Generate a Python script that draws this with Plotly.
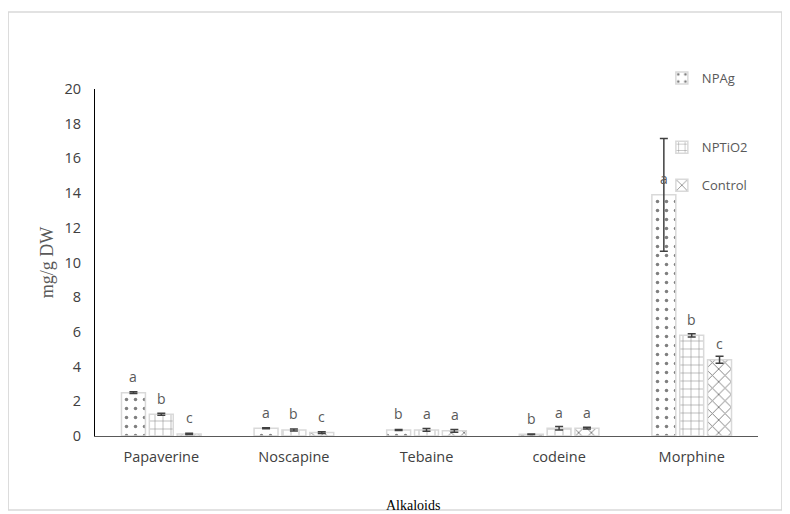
import plotly.graph_objects as go

alkaloids = ["Papaverine", "Noscapine", "Tebaine", "codeine", "Morphine"]

npag = [2.5, 0.45, 0.35, 0.1, 13.9]
npag_err = [0.05, 0.03, 0.03, 0.02, 3.25]
npag_letters = ["a", "a", "b", "b", "a"]

nptio2 = [1.25, 0.35, 0.35, 0.45, 5.8]
nptio2_err = [0.06, 0.06, 0.08, 0.1, 0.1]
nptio2_letters = ["b", "b", "a", "a", "b"]

control = [0.12, 0.2, 0.3, 0.45, 4.4]
control_err = [0.04, 0.05, 0.08, 0.05, 0.2]
control_letters = ["c", "c", "a", "a", "c"]

series = [
    ("NPAg", npag, npag_err, npag_letters, ".", 9, 0.12, "legend"),
    ("NPTiO2", nptio2, nptio2_err, nptio2_letters, "+", 8, 0.12, "legend2"),
    ("Control", control, control_err, control_letters, "x", 9, 0.2, "legend2"),
]

# page body has an 8px margin, so the figure is shrunk by 8px on each axis
fig = go.Figure()
letter_notes = []
offsets = [-28, 0, 28]
for i, (name, vals, errs, letters, shape, psize, solid, leg) in enumerate(series):
    fig.add_trace(go.Bar(
        name=name,
        x=alkaloids,
        y=vals,
        error_y=dict(type="data", array=errs, color="#404040", thickness=1.5, width=4),
        legendgroup=name,
        legend=leg,
        showlegend=True,
        marker=dict(
            color="white",
            line=dict(color="#d9d9d9", width=1.5),
            pattern=dict(shape=shape, fgcolor="black", bgcolor="white",
                         size=psize, solidity=solid),
        ),
    ))
    for cat, v, lt in zip(alkaloids, vals, letters):
        letter_notes.append(dict(
            x=cat, y=v, xref="x", yref="y", text=lt, showarrow=False,
            xshift=offsets[i], yshift=16,
            font=dict(color="#595959", size=14, family="Open Sans"),
        ))

fig.update_layout(
    width=782,
    height=506,
    showlegend=True,
    plot_bgcolor="white",
    paper_bgcolor="white",
    barmode="group",
    bargap=0.37,
    bargroupgap=0.14,
    margin=dict(l=87, r=32, t=81, b=78),
    font=dict(family="Open Sans", color="#404040", size=13),
    legend=dict(
        x=0.855, y=1.075, xanchor="left", yanchor="top",
        font=dict(size=13, color="#595959"),
        bgcolor="rgba(0,0,0,0)",
    ),
    legend2=dict(
        x=0.855, y=0.875, xanchor="left", yanchor="top",
        tracegroupgap=18,
        font=dict(size=13, color="#595959"),
        bgcolor="rgba(0,0,0,0)",
    ),
    xaxis=dict(
        showline=True, linecolor="#595959", linewidth=1,
        ticks="", ticklabelstandoff=8,
        tickfont=dict(size=14.5, color="#404040"),
    ),
    yaxis=dict(
        range=[0, 20], dtick=2, showgrid=False, zeroline=False,
        showline=True, linecolor="black", linewidth=1,
        ticks="", ticklabelstandoff=10,
        tickfont=dict(size=14.5, color="#404040"),
        title=dict(text="mg/g DW", font=dict(family="Liberation Serif", size=18, color="#595959"),
                   standoff=6),
    ),
    shapes=[dict(type="rect", xref="paper", yref="paper",
                 x0=-0.131, x1=1.036, y0=-0.213, y1=1.222,
                 line=dict(color="#d9d9d9", width=1.5))],
    annotations=letter_notes + [dict(text="Alkaloids", xref="paper", yref="paper",
                                     x=0.48, y=-0.199, showarrow=False, yanchor="middle",
                                     font=dict(family="Liberation Serif", size=14, color="black"))],
)

fig.write_html("out.html")
